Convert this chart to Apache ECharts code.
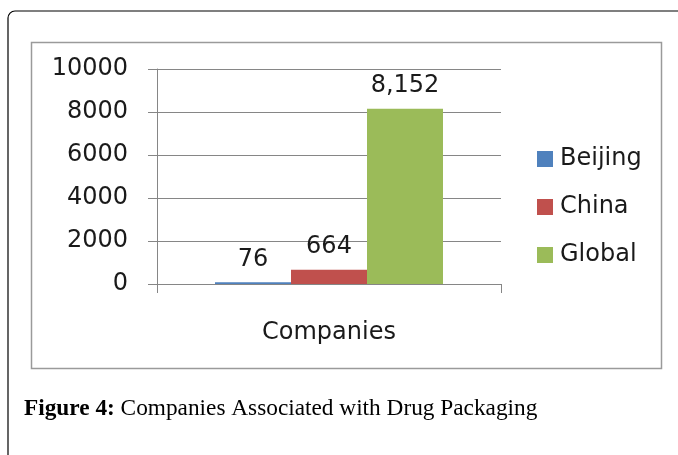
<!DOCTYPE html>
<html><head><meta charset="utf-8">
<script src="https://cdn.jsdelivr.net/npm/echarts@6/dist/echarts.min.js"></script>
<style>html,body{margin:0;padding:0;background:#fff}#c{width:678px;height:455px}</style>
</head><body><div id="c"></div>
<script>
const categories = ['Companies'];
const seriesNames = ['Beijing', 'China', 'Global'];
const seriesValues = [[76], [664], [8152]];
const seriesColors = ['#4F81BD', '#C0504D', '#9BBB59'];
const yTicks = [0, 2000, 4000, 6000, 8000, 10000];
const caption = ['Figure 4:', ' Companies Associated with Drug Packaging'];

const chart = echarts.init(document.getElementById('c'), null, {renderer: 'canvas'});
const font = 'DejaVu Sans';
const fs = 24;
chart.setOption({
  animation: false,
  textStyle: {fontFamily: font},
  grid: {left: 157, top: 69, width: 344, height: 215, containLabel: false},
  legend: {
    orient: 'vertical', left: 532, top: 142, itemWidth: 16, itemHeight: 16, itemGap: 24,
    icon: 'rect',
    textStyle: {fontFamily: font, fontSize: fs, color: '#1a1a1a', padding: [0, 0, 0, 2]},
    data: seriesNames
  },
  xAxis: {
    type: 'category', data: categories,
    axisLine: {lineStyle: {color: '#868686', width: 1}},
    axisTick: {show: true, length: 9, lineStyle: {color: '#868686'}},
    axisLabel: {margin: 37, fontSize: fs, color: '#1a1a1a', fontFamily: font}
  },
  yAxis: {
    type: 'value', min: yTicks[0], max: yTicks[yTicks.length - 1], interval: yTicks[1] - yTicks[0],
    axisLine: {show: true, lineStyle: {color: '#868686'}},
    axisTick: {show: true, length: 9, lineStyle: {color: '#868686'}},
    splitLine: {lineStyle: {color: '#868686'}},
    axisLabel: {margin: 29, fontSize: fs, color: '#1a1a1a', fontFamily: font, lineHeight: 24, padding: [6, 0, 0, 0], formatter: v => String(v)}
  },
  series: seriesNames.map((n, i) => ({
    name: n, type: 'bar', data: seriesValues[i], barWidth: 76, barGap: '0%',
    itemStyle: {color: seriesColors[i]},
    label: {show: true, position: 'top', distance: 11, fontSize: fs, color: '#1a1a1a', fontFamily: font,
      formatter: p => p.value.toLocaleString('en-US')}
  })),
  graphic: [
    {type: 'rect', shape: {x: 8, y: 11, width: 700, height: 500, r: 7}, style: {fill: 'none', stroke: '#000', lineWidth: 1.2}, z: -10},
    {type: 'rect', shape: {x: 31.5, y: 42.5, width: 630, height: 326}, style: {fill: 'none', stroke: '#9a9a9a', lineWidth: 1.5}, z: -9},
    {type: 'text', left: 24, top: 397, style: {
      text: '{b|' + caption[0] + '}{r|' + caption[1] + '}',
      rich: {
        b: {fontFamily: 'Liberation Serif', fontWeight: 'bold', fontSize: 23.3, fill: '#000'},
        r: {fontFamily: 'Liberation Serif', fontSize: 23.3, fill: '#000'}
      }
    }}
  ]
});
</script></body></html>
